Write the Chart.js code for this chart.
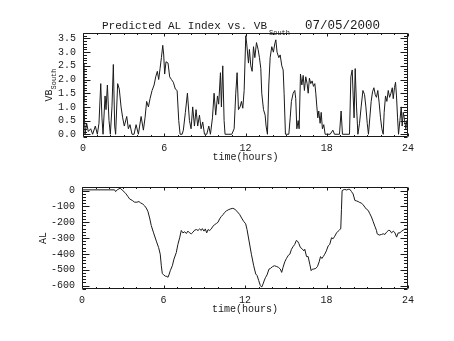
<!DOCTYPE html>
<html>
<head>
<meta charset="utf-8">
<script src="https://cdn.jsdelivr.net/npm/chart.js@4/dist/chart.umd.min.js"></script>
<style>
  html, body { margin: 0; padding: 0; background: #fff; }
  #wrap { position: relative; width: 454px; height: 341px; }
  #wrap canvas { position: absolute; left: 0; top: 0; }
</style>
</head>
<body>
<div id="wrap">
  <canvas id="vbChart" width="454" height="341"></canvas>
  <canvas id="alChart" width="454" height="341"></canvas>
</div>
<script>
// Southward IMF component (VB_South), hours UT
const vbHours = [
  0.00,0.07,0.15,0.27,0.39,0.57,0.71,0.91,1.06,1.18,
  1.31,1.40,1.48,1.63,1.70,1.80,1.92,2.02,2.14,2.24,
  2.34,2.41,2.56,2.68,2.81,2.93,3.05,3.23,3.35,3.47,
  3.62,3.77,3.92,4.09,4.29,4.46,4.58,4.70,4.83,4.95,
  5.10,5.25,5.37,5.49,5.59,5.69,5.79,5.89,5.96,6.03,
  6.13,6.28,6.40,6.53,6.67,6.82,6.95,7.07,7.17,7.32,
  7.41,7.56,7.71,7.86,7.98,8.10,8.23,8.35,8.47,8.60,
  8.72,8.84,8.97,9.14,9.29,9.41,9.56,9.68,9.80,9.93,
  10.02,10.15,10.22,10.32,10.42,10.49,10.99,11.16,11.28,11.38,
  11.48,11.60,11.70,11.80,11.90,12.02,
  12.09,12.22,12.29,12.39,12.49,12.59,12.69,12.81,12.93,13.03,
  13.13,13.20,13.33,13.45,13.52,13.62,13.72,13.82,13.94,14.06,
  14.16,14.24,14.33,14.46,14.56,14.68,14.78,14.85,14.95,15.20,
  15.30,15.39,15.52,15.64,15.71,15.79,15.89,15.96,16.06,16.16,
  16.26,16.35,16.45,16.55,16.63,16.72,16.82,16.92,17.02,17.12,
  17.19,17.27,17.34,17.41,17.51,17.59,17.68,17.78,17.88,18.25,
  18.45,18.57,18.94,19.06,19.16,19.68,19.78,19.88,19.95,20.02,
  20.10,20.20,20.30,20.42,20.54,20.67,20.79,20.89,20.99,21.08,
  21.18,21.28,21.38,21.48,21.58,21.67,21.77,21.87,21.97,22.07,
  22.17,22.24,22.34,22.44,22.54,22.64,22.74,22.84,22.91,23.00,
  23.08,23.15,23.23,23.30,23.40,23.50,23.57,23.65,23.74,23.84,
  23.91,24.00
];
const vbValues = [
  2.6,1.2,0.0,0.4,0.1,0.2,0.0,0.3,0.0,0.4,
  1.85,0.6,0.0,1.4,0.9,1.8,0.5,0.0,1.0,2.55,
  0.3,0.0,1.85,1.65,1.0,0.6,0.3,0.65,0.2,0.35,
  0.0,0.0,0.35,0.0,0.65,0.15,0.6,1.2,1.0,1.3,
  1.6,1.8,2.1,2.3,2.0,2.4,2.8,3.25,2.9,2.2,
  2.65,2.6,2.1,2.0,1.9,1.65,1.6,0.5,0.0,0.0,
  0.15,0.8,1.5,0.5,0.2,1.0,0.3,0.9,0.3,0.7,
  0.2,0.45,0.0,0.0,0.3,0.0,0.6,1.5,0.7,1.4,
  1.1,2.25,1.0,2.5,0.5,0.0,0.0,0.2,1.5,2.25,
  0.9,1.0,1.2,0.95,1.6,3.6,
  3.3,2.6,3.1,2.5,2.3,3.2,2.8,3.35,3.1,2.8,
  2.4,1.5,0.9,0.7,0.3,0.0,1.8,2.8,3.2,3.0,
  3.3,3.45,3.0,2.8,2.9,2.5,2.35,1.5,0.0,0.0,
  0.6,1.2,1.5,1.6,1.3,0.2,0.5,0.2,2.2,1.8,
  2.15,1.6,2.1,1.85,1.5,2.05,1.85,1.95,1.75,1.85,
  1.5,1.0,0.6,0.85,0.4,0.8,0.2,0.35,0.0,0.0,
  0.15,0.0,0.0,0.85,0.0,0.0,2.1,2.35,1.4,0.6,
  2.4,1.0,0.0,0.4,1.0,1.6,1.45,1.0,0.4,0.0,
  0.6,1.2,1.55,1.7,1.45,1.35,1.6,1.15,0.6,0.2,
  0.0,0.8,1.4,1.2,1.6,1.35,1.5,1.7,1.3,1.7,
  1.9,1.4,0.6,0.0,0.5,1.0,0.3,0.8,0.55,0.2,
  0.5,0.3
];

// Predicted AL index (nT), hours UT
const alHours = [
  0.00,2.40,2.47,2.64,2.81,3.01,3.21,3.38,3.50,3.70,
  3.87,4.04,4.19,4.31,4.48,4.61,4.73,4.85,4.98,5.10,
  5.27,5.47,5.64,5.76,5.84,5.91,6.01,6.16,6.25,6.33,
  6.40,6.50,6.65,6.77,6.94,7.06,7.19,7.31,7.43,7.56,
  7.68,7.80,7.92,8.05,8.17,8.29,8.42,8.54,8.66,8.78,
  8.86,8.98,9.08,9.18,9.28,9.40,9.52,9.64,9.77,9.89,
  10.01,10.13,10.26,10.38,10.50,10.63,10.80,10.95,11.10,11.25,
  11.45,11.60,11.75,11.90,12.05,12.15,12.30,12.47,12.64,12.79,
  12.89,13.01,13.13,13.23,13.33,13.43,13.52,13.62,13.77,13.87,
  14.02,14.16,14.31,14.46,14.60,14.70,14.80,14.93,15.05,15.20,
  15.30,15.42,15.54,15.66,15.78,15.86,15.96,16.08,16.20,16.33,
  16.40,16.53,16.65,16.77,16.87,16.97,17.06,17.21,17.34,17.46,
  17.56,17.66,17.76,17.87,17.99,18.12,18.24,18.37,18.49,18.61,
  18.74,18.86,18.98,19.05,19.10,19.15,19.22,19.35,19.47,19.60,
  19.72,19.84,19.96,20.09,20.21,20.33,20.45,20.58,20.70,20.82,
  20.94,21.07,21.19,21.31,21.43,21.56,21.68,21.73,21.88,22.05,
  22.18,22.30,22.42,22.55,22.67,22.79,22.92,23.04,23.16,23.28,
  23.41,23.53,23.65,23.78,23.90,24.00
];
const alValues = [
  5,5,-6,8,15,0,-17,-37,-52,-62,
  -73,-73,-69,-77,-85,-96,-110,-131,-173,-221,
  -267,-319,-360,-402,-475,-523,-533,-542,-542,-548,
  -533,-506,-475,-433,-392,-340,-298,-252,-267,-260,
  -271,-256,-267,-273,-263,-250,-246,-252,-242,-252,
  -240,-256,-242,-267,-246,-252,-242,-225,-215,-208,
  -200,-179,-163,-152,-138,-128,-120,-115,-112,-117,
  -135,-150,-173,-194,-210,-246,-319,-402,-475,-527,
  -537,-569,-600,-610,-590,-565,-548,-533,-496,-492,
  -481,-475,-479,-485,-496,-517,-485,-450,-429,-408,
  -402,-371,-354,-340,-315,-319,-333,-360,-367,-381,
  -371,-417,-417,-465,-506,-496,-496,-492,-479,-450,
  -417,-429,-417,-402,-381,-350,-340,-298,-304,-288,
  -267,-256,-246,-242,-121,0,4,8,4,8,
  8,-6,-21,-62,-65,-69,-75,-79,-90,-104,
  -117,-125,-146,-167,-194,-225,-252,-273,-281,-277,
  -273,-277,-263,-252,-252,-267,-256,-267,-294,-267,
  -267,-256,-250,-242,-242,-246
];

// Labelled tick values
const hourTicks = [0, 6, 12, 18, 24];
const vbTicks = [0, 0.5, 1, 1.5, 2, 2.5, 3, 3.5];
const alTicks = [0, -100, -200, -300, -400, -500, -600];

const FONT = '"Liberation Mono", "DejaVu Sans Mono", monospace';
const INK = '#1a1a1a';

// Draws the closed plot frame with inward-pointing major/minor ticks on all four sides,
// plus the chart's free text (main title, rotated y title with subscript).
const framePlugin = {
  id: 'frame',
  afterDraw(chart, args, o) {
    const { ctx, chartArea: a, scales: { x, y } } = chart;
    const L = Math.round(a.left) + 0.5, R = Math.round(a.right) - 0.5;
    const T = Math.round(a.top) + 0.5, B = Math.round(a.bottom) - 0.5;
    ctx.save();
    ctx.strokeStyle = INK;
    ctx.lineWidth = 1;
    ctx.beginPath();
    ctx.rect(L, T, R - L, B - T);

    // x ticks: major at the labelled hours, minor every hour
    for (let h = x.min; h <= x.max + 1e-9; h += o.xMinor) {
      const px = Math.round(x.getPixelForValue(h)) + 0.5;
      const len = o.xMajor.includes(h) ? o.xMajorLen : o.xMinorLen;
      ctx.moveTo(px, B); ctx.lineTo(px, B - len);
      ctx.moveTo(px, T); ctx.lineTo(px, T + len);
    }
    // y ticks: major at labelled values, minor at finer steps
    const i0 = Math.ceil(y.min / o.yMinor - 1e-9), i1 = Math.floor(y.max / o.yMinor + 1e-9);
    for (let i = i0; i <= i1; i++) {
      const v = i * o.yMinor;
      const py = Math.round(y.getPixelForValue(v)) + 0.5;
      const major = o.yMajor.some(t => Math.abs(t - v) < 1e-6);
      const len = major ? o.yMajorLen : o.yMinorLen;
      ctx.moveTo(L, py); ctx.lineTo(L + len, py);
      ctx.moveTo(R, py); ctx.lineTo(R - len, py);
    }
    ctx.stroke();

    ctx.fillStyle = INK;
    ctx.textBaseline = 'alphabetic';
    ctx.textAlign = 'left';
    // main title pieces
    (o.title || []).forEach(t => {
      ctx.font = t.size + 'px ' + FONT;
      ctx.fillText(t.text, t.x, t.y);
    });
    // rotated y-axis title (reads bottom to top), optional subscript
    if (o.yTitle) {
      const yt = o.yTitle;
      ctx.translate(yt.x, (a.top + a.bottom) / 2);
      ctx.rotate(-Math.PI / 2);
      ctx.font = yt.size + 'px ' + FONT;
      const w1 = ctx.measureText(yt.text).width;
      let w2 = 0;
      if (yt.sub) {
        ctx.font = yt.subSize + 'px ' + FONT;
        w2 = ctx.measureText(yt.sub).width;
      }
      const start = -(w1 + w2) / 2;
      ctx.font = yt.size + 'px ' + FONT;
      ctx.fillText(yt.text, start, 0);
      if (yt.sub) {
        ctx.font = yt.subSize + 'px ' + FONT;
        ctx.fillText(yt.sub, start + w1, yt.subDrop);
      }
    }
    ctx.restore();
  }
};

function makeChart(id, hours, values, yMin, yMax, yTicks, yFmt, pad, frame) {
  const points = hours.map((h, i) => ({ x: h, y: values[i] }));
  return new Chart(document.getElementById(id), {
    type: 'line',
    data: {
      datasets: [{
        data: points,
        borderColor: INK,
        borderWidth: 1,
        pointRadius: 0,
        tension: 0,
        fill: false
      }]
    },
    options: {
      responsive: false,
      animation: false,
      devicePixelRatio: 1,
      layout: { padding: pad },
      plugins: { legend: { display: false }, tooltip: { enabled: false }, frame: frame },
      scales: {
        x: {
          type: 'linear',
          min: 0, max: 24,
          grid: { display: false, drawTicks: false },
          border: { display: false },
          afterFit: s => { s.height = 30; },
          afterBuildTicks: s => { s.ticks = hourTicks.map(v => ({ value: v })); },
          ticks: {
            color: INK, padding: 5, maxRotation: 0, autoSkip: false,
            font: { family: FONT, size: 10 },
            callback: v => String(v)
          },
          title: {
            display: true, text: 'time(hours)', color: INK,
            font: { family: FONT, size: 10 },
            padding: { top: 0, bottom: 4 }
          }
        },
        y: {
          type: 'linear',
          min: yMin, max: yMax,
          grid: { display: false, drawTicks: false },
          border: { display: false },
          afterFit: s => { s.width = 40; },
          afterBuildTicks: s => { s.ticks = yTicks.map(v => ({ value: v })); },
          ticks: {
            color: INK, padding: 7, autoSkip: false,
            font: { family: FONT, size: 10 },
            callback: yFmt
          }
        }
      }
    },
    plugins: [framePlugin]
  });
}

makeChart('vbChart', vbHours, vbValues, -0.1, 3.7, vbTicks, v => v.toFixed(1),
  { left: 43, right: 46, top: 33, bottom: 174 },
  {
    xMinor: 1, xMajor: hourTicks, xMajorLen: 3, xMinorLen: 1.5,
    yMinor: 0.1, yMajor: vbTicks, yMajorLen: 7, yMinorLen: 3.5,
    title: [
      { text: 'Predicted AL Index vs. VB', x: 102, y: 29, size: 11 },
      { text: 'South', x: 269, y: 35, size: 7 },
      { text: '07/05/2000', x: 305, y: 29, size: 12.5 }
    ],
    yTitle: { text: 'VB', sub: 'South', x: 52, size: 10, subSize: 7, subDrop: 4 }
  });

makeChart('alChart', alHours, alValues, -622, 23, alTicks, v => String(v),
  { left: 42, right: 46, top: 187, bottom: 22 },
  {
    xMinor: 1, xMajor: hourTicks, xMajorLen: 3, xMinorLen: 1.5,
    yMinor: 20, yMajor: alTicks, yMajorLen: 7, yMinorLen: 3.5,
    yTitle: { text: 'AL', x: 46, size: 10 }
  });
</script>
</body>
</html>
